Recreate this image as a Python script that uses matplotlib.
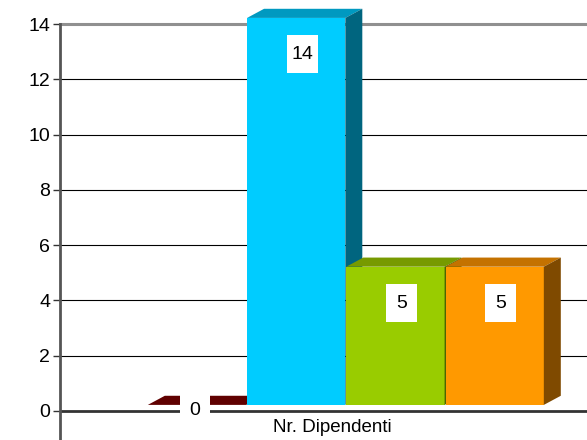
import matplotlib
matplotlib.use("Agg")
import matplotlib.pyplot as plt
from matplotlib.patches import Polygon, Rectangle

categories = ["Nr. Dipendenti"]
series_values = [0, 14, 5, 5]
front_colors = ["#600000", "#00ccff", "#99cc00", "#ff9900"]
top_colors = ["#600000", "#0099c0", "#779a00", "#c47200"]
side_colors = ["#400000", "#00657f", "#4c6600", "#7f4a00"]
y_ticks = [0, 2, 4, 6, 8, 10, 12, 14]

plt.rcParams['font.family'] = ['Liberation Sans', 'DejaVu Sans']

W, H = 587, 440
fig = plt.figure(figsize=(W / 100, H / 100), dpi=100)
ax = fig.add_axes([60 / W, 0, 1 - 60 / W, (440 - 24) / H])

ymin, ymax = -1.05, 14
xmin, xmax = -1.38, 3.93
ax.set_xlim(xmin, xmax)
ax.set_ylim(ymin, ymax)

# grid lines
for t in y_ticks[1:-1]:
    ax.axhline(t, color="black", lw=0.8, zorder=1)
ax.axhline(y_ticks[-1], color="#909090", lw=2.2, zorder=1, clip_on=False)
ax.axhline(0, color="#333333", lw=2.0, zorder=1)

for s in ["top", "right", "bottom"]:
    ax.spines[s].set_visible(False)
ax.spines["left"].set_color("#555555")
ax.spines["left"].set_linewidth(2.0)

ax.set_yticks(y_ticks)
ax.set_yticklabels([str(t) for t in y_ticks], fontsize=14)
ax.tick_params(axis="y", length=5, width=1, color="#333333", pad=2)
ax.set_xticks([])

# 3D parameters
width = 0.99
lift = 0.22      # front face raised above axis
dx = 0.171       # depth offset in x units
dy = 0.33        # depth offset in y units

for i, v in enumerate(series_values):
    x0 = i - width / 2
    x1 = i + width / 2
    yb = lift
    yt = v + lift
    z = 3 + i
    # front
    if v > 0:
        ax.add_patch(Rectangle((x0, yb), width, v, facecolor=front_colors[i],
                               edgecolor="none", zorder=z, clip_on=False))
    # top
    ax.add_patch(Polygon([(x0, yt), (x1, yt), (x1 + dx, yt + dy), (x0 + dx, yt + dy)],
                         closed=True, facecolor=top_colors[i], edgecolor="none", zorder=z,
                         clip_on=False))
    # side
    if v > 0:
        ax.add_patch(Polygon([(x1, yb), (x1 + dx, yb + dy), (x1 + dx, yt + dy), (x1, yt)],
                             closed=True, facecolor=side_colors[i], edgecolor="none", zorder=z,
                             clip_on=False))

# value labels
box_w, box_h = 0.31, 1.37
for i, v in enumerate(series_values):
    ly = max(v - 1.1, 0)
    lx = i + (0.06 if v > 0 else -0.02)
    ax.add_patch(Rectangle((lx - box_w / 2, ly - box_h / 2), box_w, box_h,
                           facecolor="white", edgecolor="none", zorder=10))
    ax.text(lx, ly, str(v), ha="center", va="center", fontsize=14, color="black", zorder=11)

# category label
ax.text(1.36, -0.58, categories[0], ha="center", va="center", fontsize=13.5, color="black",
        zorder=11)

fig.savefig("out.png", dpi=100)
